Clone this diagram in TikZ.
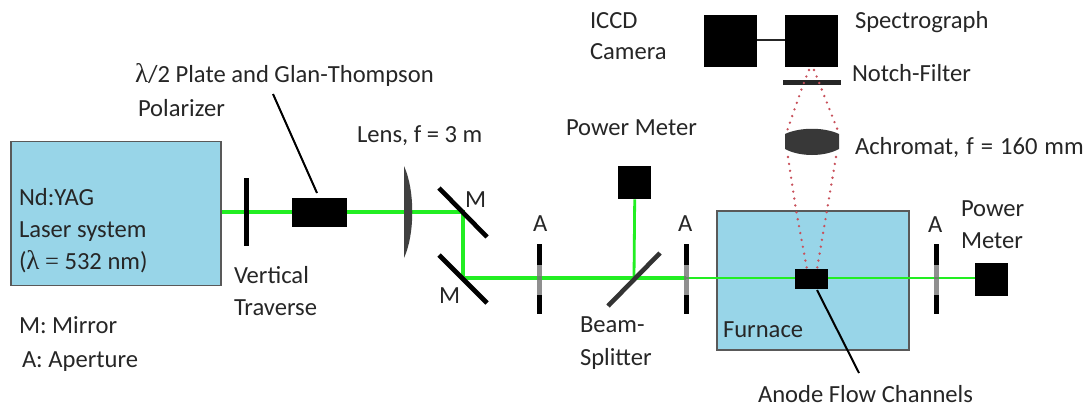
\documentclass[tikz,border=0pt]{standalone}
\usepackage{fontspec}
\setmainfont{Carlito}
\newfontfamily\lamfont{Liberation Serif}
\definecolor{boxblue}{HTML}{98D5E8}
\definecolor{beam}{HTML}{22EE22}
\definecolor{rdot}{HTML}{C8505A}
\tikzset{
 x=1pt,y=-1pt,
 lbl/.style={anchor=base west,inner sep=0pt,outer sep=0pt,text=black!85,font=\fontsize{24.6}{28}\selectfont},
 blk/.style={fill=black,draw=none,minimum width=#1,inner sep=0pt},
 panel/.style={fill=boxblue,draw=black!65,line width=1.5pt,inner sep=0pt},
 ray/.style={draw=beam,line width=4pt},
 rayn/.style={draw=beam,line width=2.8pt},
 optic/.style={draw=black,line width=4.6pt},
 split/.style={draw=black!80,line width=4.6pt},
 pointer/.style={draw=black,line width=2pt},
 reddots/.style={draw=rdot,line width=2.6pt,line cap=round,dash pattern=on 0pt off 7pt},
 ap/.style={draw=black,line width=5pt},
 apmid/.style={draw=black!55,opacity=.8,line width=5pt},
}
\newcommand{\boxat}[6]{\node[#6,minimum width=#4pt,minimum height=#5pt,anchor=north west] (#1) at (#2,#3) {};}
\newcommand{\aperture}[2]{%
 \coordinate (#1t) at (#2,244); \coordinate (#1b) at (#2,314);
 \coordinate (#1u) at (#2,265); \coordinate (#1l) at (#2,295);
 \draw[ap] (#1t) -- (#1u); \draw[apmid] (#1u) -- (#1l); \draw[ap] (#1l) -- (#1b);}
\newcommand{\lamb}{{\lamfont\fontsize{27}{28}\selectfont λ}}
\begin{document}
\begin{tikzpicture}
\useasboundingbox (0,0) rectangle (1089,407);
\fill[white] (0,0) rectangle (1089,407);
% panels
\boxat{laser}{10}{140.5}{210}{144}{panel}
\boxat{furnace}{716}{210}{192}{139}{panel}
% coordinates
\coordinate (m1c) at (463,212);
\coordinate (m2c) at (463,278);
\coordinate (bsc) at (634,278);
\coordinate (aperA) at (686,278);
% black boxes
\boxat{glan}{292}{198}{55}{29}{blk=55pt}
\boxat{pm1}{618}{166}{33}{33}{blk=33pt}
\boxat{pm2}{975}{263}{33}{33}{blk=33pt}
\boxat{iccd}{704}{15}{53}{52}{blk=53pt}
\boxat{spec}{785}{15}{53}{52}{blk=53pt}
\boxat{anode}{795}{269}{33}{20}{blk=33pt}
% beams
\draw[ray] (laser.east |- m1c) -- (glan.west |- m1c);
\draw[ray] (glan.east |- m1c) -- (m1c) -- (m2c) -- (aperA);
\draw[rayn] (aperA) -- (anode.west |- aperA);
\draw[rayn] (anode.east |- aperA) -- (pm2.west |- aperA);
\draw[rayn] (bsc) -- (pm1.south);
% traverse plate
\coordinate (vtt) at (246,178); \coordinate (vtb) at (246,246);
\draw[ap] (vtt) -- (vtb);
% lens
\coordinate (lenst) at (404,166); \coordinate (lensb) at (404,258);
\fill[black!75] (lenst) .. controls (415,190) and (415,234) .. (lensb) -- cycle;
% mirrors
\coordinate (m1a) at (439,188); \coordinate (m1b) at (487,237);
\coordinate (m2a) at (439,255); \coordinate (m2b) at (487,303);
\draw[optic] (m1a) -- (m1b);
\draw[optic] (m2a) -- (m2b);
% splitter
\coordinate (bsa) at (608,306); \coordinate (bsb) at (660,253);
\draw[split] (bsa) -- (bsb);
% apertures
\aperture{apa}{539}
\aperture{apb}{686}
\aperture{apc}{936}
% spectrograph link
\draw[draw=black!85,line width=2.6pt] (iccd.east |- 0,40) -- (spec.west |- 0,40);
% notch
\boxat{notch}{783}{80}{58}{5}{fill=black!85,inner sep=0pt}
% achromat
\fill[black!78] (785,134) .. controls (800,127) and (824,127) .. (839,134) -- (839,149) .. controls (824,157) and (800,157) .. (785,149) -- cycle;
\coordinate (acl) at (787,131); \coordinate (acr) at (838,131);
\coordinate (acl2) at (788,157); \coordinate (acr2) at (836,157);
% red rays
\draw[reddots] (809,70) -- (803,85) -- (acl);
\draw[reddots] (814,70) -- (820,85) -- (acr);
\draw[reddots] (acl2) -- (796,210) -- (807,269);
\draw[reddots] (acr2) -- (827,210) -- (817,269);
% pointers
\coordinate (ptg) at (273,94); \coordinate (ptg2) at (317,193);
\draw[pointer] (ptg) -- (ptg2);
\coordinate (pta) at (817,290); \coordinate (pta2) at (859,373);
\draw[pointer] (pta) -- (pta2);
% labels
\node[lbl] (t1) at (19,205.5) {Nd:YAG};
\node[lbl] (t2) at (19,237.5) {Laser system};
\node[lbl] (t3) at (19,269.5) {(\lamb{} {\lamfont=} 532 nm)};
\node[lbl] (t4) at (234,283.5) {Vertical};
\node[lbl] (t5) at (234,315.5) {Traverse};
\node[lbl] (t6) at (19,333.5) {M: Mirror};
\node[lbl] (t7) at (22,367.5) {A: Aperture};
\node[lbl] (t8) at (135,82.5) {\lamb/2 Plate and Glan-Thompson};
\node[lbl] (t9) at (138,116.5) {Polarizer};
\node[lbl] (t10) at (357,142.5) {Lens, f = 3 m};
\node[lbl] (t11) at (566,135.5) {Power Meter};
\node[lbl] (t12) at (465,207.5) {M};
\node[lbl] (t13) at (439,303.5) {M};
\node[lbl] (t14) at (533,231.5) {A};
\node[lbl] (t15) at (678,231.5) {A};
\node[lbl] (t16) at (928,232.5) {A};
\node[lbl] (t17) at (580,332.5) {Beam-};
\node[lbl] (t18) at (580,365.5) {Splitter};
\node[lbl] (t19) at (723,337.5) {Furnace};
\node[lbl] (t20) at (758,402) {Anode Flow Channels};
\node[lbl] (t21) at (961,216.5) {Power};
\node[lbl] (t22) at (961,248.5) {Meter};
\node[lbl] (t23) at (855,28.5) {Spectrograph};
\node[lbl] (t24) at (852,81.5) {Notch-Filter};
\node[lbl] (t25) at (855,154.5) {\spaceskip=7pt Achromat, f = 160 mm};
\node[lbl] (t26) at (590,28.5) {ICCD};
\node[lbl] (t27) at (590,59.5) {Camera};
\end{tikzpicture}
\end{document}
